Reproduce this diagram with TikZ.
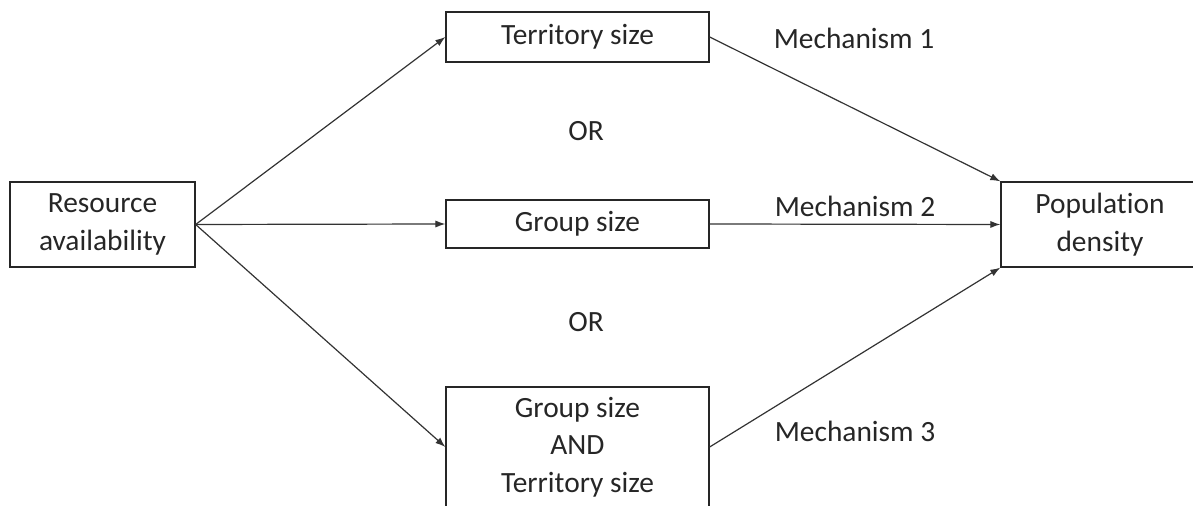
\documentclass[tikz,border=0pt]{standalone}
\usepackage{fontspec}
\setmainfont{Carlito}[Ligatures=NoCommon]
\usetikzlibrary{shapes,arrows,arrows.meta,positioning}

\begin{document}
\begin{tikzpicture}[
    x=0.5pt, y=-0.5pt,
    box/.style={rectangle, draw=black!85, line width=0.65pt, align=center, inner sep=2pt, text=black!85, font=\fontsize{14.7}{18.7}\selectfont},
    mech/.style={text=black!85, font=\fontsize{14.7}{18.7}\selectfont},
    arrow/.style={-{Latex[length=5pt,width=3.6pt]}, line width=0.6pt, draw=black!80}
]
\useasboundingbox (0,0) rectangle (1193,506);
\clip (0,0) rectangle (1193,506);

% Cause
\node[box, minimum width=92.5pt, minimum height=42.5pt] (resource) at (102.5,224.5) {Resource\\availability};

% Middle boxes
\node[box, minimum width=131.5pt, minimum height=25pt] (territory) at (577.5,37) {Territory size};
\node[box, minimum width=131.5pt, minimum height=24pt] (group) at (577.5,224) {Group size};
\node[box, minimum width=131.5pt, minimum height=60pt] (both) at (577.5,447) {Group size\\AND\\Territory size};

% Effect
\node[box, minimum width=99pt, minimum height=42.5pt] (density) at (1100,224.5) {Population\\density};

% OR labels
\node[mech] (or_a) at (586,131) {OR};
\node[mech] (or_b) at (586,322) {OR};

% Mechanisms
\node[mech] (mech_a) at (854,38) {Mechanism 1};
\node[mech] (mech_b) at (855,206) {Mechanism 2};
\node[mech] (mech_c) at (855,431) {Mechanism 3};

% Arrows
\draw[arrow] (resource.east) -- (territory.west);
\draw[arrow] (resource.east) -- (group.west);
\draw[arrow] (resource.east) -- (both.west);
\draw[arrow] (territory.east) -- (density.north west);
\draw[arrow] (group.east) -- (density.west);
\draw[arrow] (both.east) -- (density.south west);

\end{tikzpicture}
\end{document}
